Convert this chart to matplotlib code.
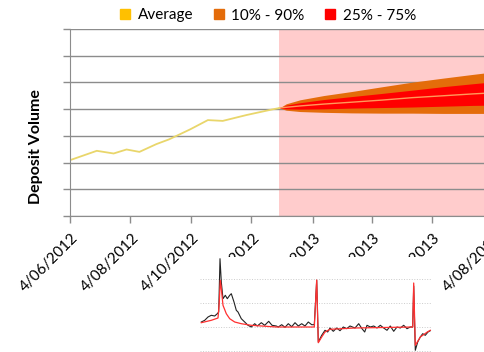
import datetime as dt
import matplotlib
matplotlib.use("Agg")
import matplotlib.pyplot as plt
from matplotlib.lines import Line2D
from matplotlib.transforms import ScaledTranslation

plt.rcParams['font.family'] = ['Lato', 'DejaVu Sans']

# historic average
hist_dates = ["2012-06-04", "2012-07-01", "2012-07-18", "2012-07-31", "2012-08-13",
              "2012-08-30", "2012-09-12", "2012-10-03", "2012-10-21", "2012-11-05",
              "2012-11-29", "2012-12-25", "2013-01-01"]
hist_avg = [2.09, 2.44, 2.34, 2.49, 2.40, 2.69, 2.87, 3.24, 3.59, 3.56, 3.78, 3.99, 4.04]

# forecast fan
fc_dates = ["2013-01-01", "2013-01-08", "2013-01-22", "2013-02-15", "2013-03-15",
            "2013-04-15", "2013-05-15", "2013-06-15", "2013-07-15", "2013-08-04"]
fc_p10 = [4.04, 3.96, 3.91, 3.88, 3.86, 3.85, 3.85, 3.84, 3.84, 3.84]
fc_p25 = [4.04, 4.01, 4.00, 4.01, 4.04, 4.06, 4.08, 4.11, 4.14, 4.15]
fc_avg = [4.04, 4.07, 4.12, 4.19, 4.26, 4.34, 4.43, 4.50, 4.57, 4.61]
fc_p75 = [4.04, 4.15, 4.24, 4.36, 4.47, 4.59, 4.71, 4.84, 4.95, 5.02]
fc_p90 = [4.04, 4.20, 4.35, 4.51, 4.66, 4.84, 5.01, 5.16, 5.30, 5.39]

tick_dates = ["2012-06-04", "2012-08-04", "2012-10-04", "2012-12-04",
              "2013-02-04", "2013-04-04", "2013-06-04", "2013-08-04"]
tick_labels = ["4/06/2012", "4/08/2012", "4/10/2012", "4/12/2012",
               "4/02/2013", "4/04/2013", "4/06/2013", "4/08/2013"]

# small pasted chart at the bottom
inset_t = [1.3, 4.7, 8, 11.3, 14.7, 17.3, 18.7, 20, 21.3, 23, 25.3, 27.3, 29.7, 31.3, 34,
           36.3, 38, 41.3, 44.7, 48, 51.3, 54.7, 57.3, 61.3, 64.7, 68.7, 72, 76.3, 78.3,
           81.7, 85, 88.3, 91.7, 95, 98.3, 101.7, 105, 108.3, 111.7, 114.3, 116.7, 118.3,
           121.7, 125, 127.7, 130, 133.3, 136.7, 140, 143.3, 146.7, 150, 155, 158.7, 162,
           164.7, 167, 170.3, 173.7, 177, 180.3, 183.7, 187, 190.3, 193.7, 197, 200.3,
           203.7, 207, 210.3, 212.7, 213.7, 215.3, 217.7, 220.3, 222.7, 225.3, 228, 230.3]
inset_actual = [30, 31.7, 35, 36.7, 36, 38.3, 40, 93.3, 70, 53.3, 56.7, 53.3, 56.7, 58.3, 50,
                41.7, 40, 33.3, 30, 26.7, 25, 28.3, 26, 29.3, 26.7, 30.7, 26.7, 26, 25,
                27.3, 24.7, 28.3, 25.3, 29.3, 26, 28.3, 26, 30, 27.3, 27.3, 71.7, 10,
                16.7, 21.7, 20, 24, 20.7, 24, 21.3, 25, 23.3, 26, 24, 28.3, 23.3,
                20, 26.7, 25, 26, 24, 26.7, 24, 21.7, 26, 20.7, 25, 24,
                26.7, 23.3, 25, 25, 66, 1.7, 10, 15, 18.3, 16.7, 20, 21.3]
model_t = [1.3, 11.3, 18, 19.3, 20.3, 21.3, 23, 26.3, 29.7, 34.7, 41.3, 51.3, 76.3, 114.3,
           116.7, 118.3, 121.7, 125, 130, 155, 212.7, 213.7, 215.3, 220.3, 227.3, 230.3]
inset_model = [29.3, 31.7, 34, 50, 71.7, 63.3, 46.7, 38.3, 33.3, 30, 28.3, 26.7, 25, 25,
               72, 9.3, 15, 20, 22.7, 24, 25, 69, 6.7, 15, 20, 21.7]

W, H = 485, 352
fig = plt.figure(figsize=(W / 100, H / 100), dpi=100)
ax = fig.add_axes([70 / W, 136 / H, 422.5 / W, 187 / H])

hd = [dt.datetime.strptime(d, "%Y-%m-%d") for d in hist_dates]
fd = [dt.datetime.strptime(d, "%Y-%m-%d") for d in fc_dates]
td = [dt.datetime.strptime(d, "%Y-%m-%d") for d in tick_dates]

ax.axvspan(fd[0], fd[-1], color='#FFCCCC', lw=0, zorder=0.2)
ax.fill_between(fd, fc_p10, fc_p90, color='#E46C0A', lw=0, zorder=2)
ax.fill_between(fd, fc_p25, fc_p75, color='#FF0000', lw=0, zorder=2.1)
ax.plot(fd, fc_avg, color='#FF9A5A', lw=1, zorder=2.2)
ax.plot(hd, hist_avg, color='#E9D66B', lw=1.3, zorder=2.2)

ax.set_xlim(td[0], td[-1])
ax.set_ylim(0, 7)
ax.set_yticks(range(8))
ax.set_yticklabels([])
ax.set_axisbelow(True)
ax.yaxis.grid(True, color='#8c8c8c', lw=1)
ax.set_xticks(td)
ax.set_xticklabels(tick_labels, rotation=45, ha='right', va='center',
                   rotation_mode='anchor', fontsize=11)
ax.tick_params(direction='out', length=5, color='#8c8c8c', width=1)
ax.tick_params(axis='x', pad=9.5)
shift = ScaledTranslation(6 / 100, 0, fig.dpi_scale_trans)
for lab in ax.get_xticklabels():
    lab.set_transform(lab.get_transform() + shift)
for s in ['top', 'right']:
    ax.spines[s].set_visible(False)
for s in ['left', 'bottom']:
    ax.spines[s].set_color('#8c8c8c')

fig.text(36 / W, 1 - 146.5 / H, "Deposit Volume", rotation=90, ha='center', va='center',
         fontsize=11.5, fontweight='bold')

handles = [Line2D([], [], marker='s', ls='', color=c, markersize=6.5)
           for c in ['#FFC000', '#E46C0A', '#FF0000']]
fig.legend(handles, ["Average", "10% - 90%", "25% - 75%"], loc='center',
           bbox_to_anchor=(267.5 / W, 1 - 15.5 / H), ncol=3, frameon=False,
           handlelength=0.8, handletextpad=0.4, columnspacing=1.3, fontsize=11)

# the overlapping pasted picture
ins = fig.add_axes([200 / W, 0, 232 / W, 95 / H])
ins.set_facecolor('white')
for s in ins.spines.values():
    s.set_visible(False)
ins.set_xlim(0, 232)
ins.set_ylim(0, 95)
ins.set_xticks([])
ins.set_yticks([1, 25, 49, 73])
ins.tick_params(length=0, labelleft=False)
ins.yaxis.grid(True, ls=':', color='#cccccc', lw=0.7)
ins.plot(inset_t, inset_actual, color='#222222', lw=0.8)
ins.plot(model_t, inset_model, color='#FF3030', lw=0.9)

fig.savefig("out.png", dpi=100)
